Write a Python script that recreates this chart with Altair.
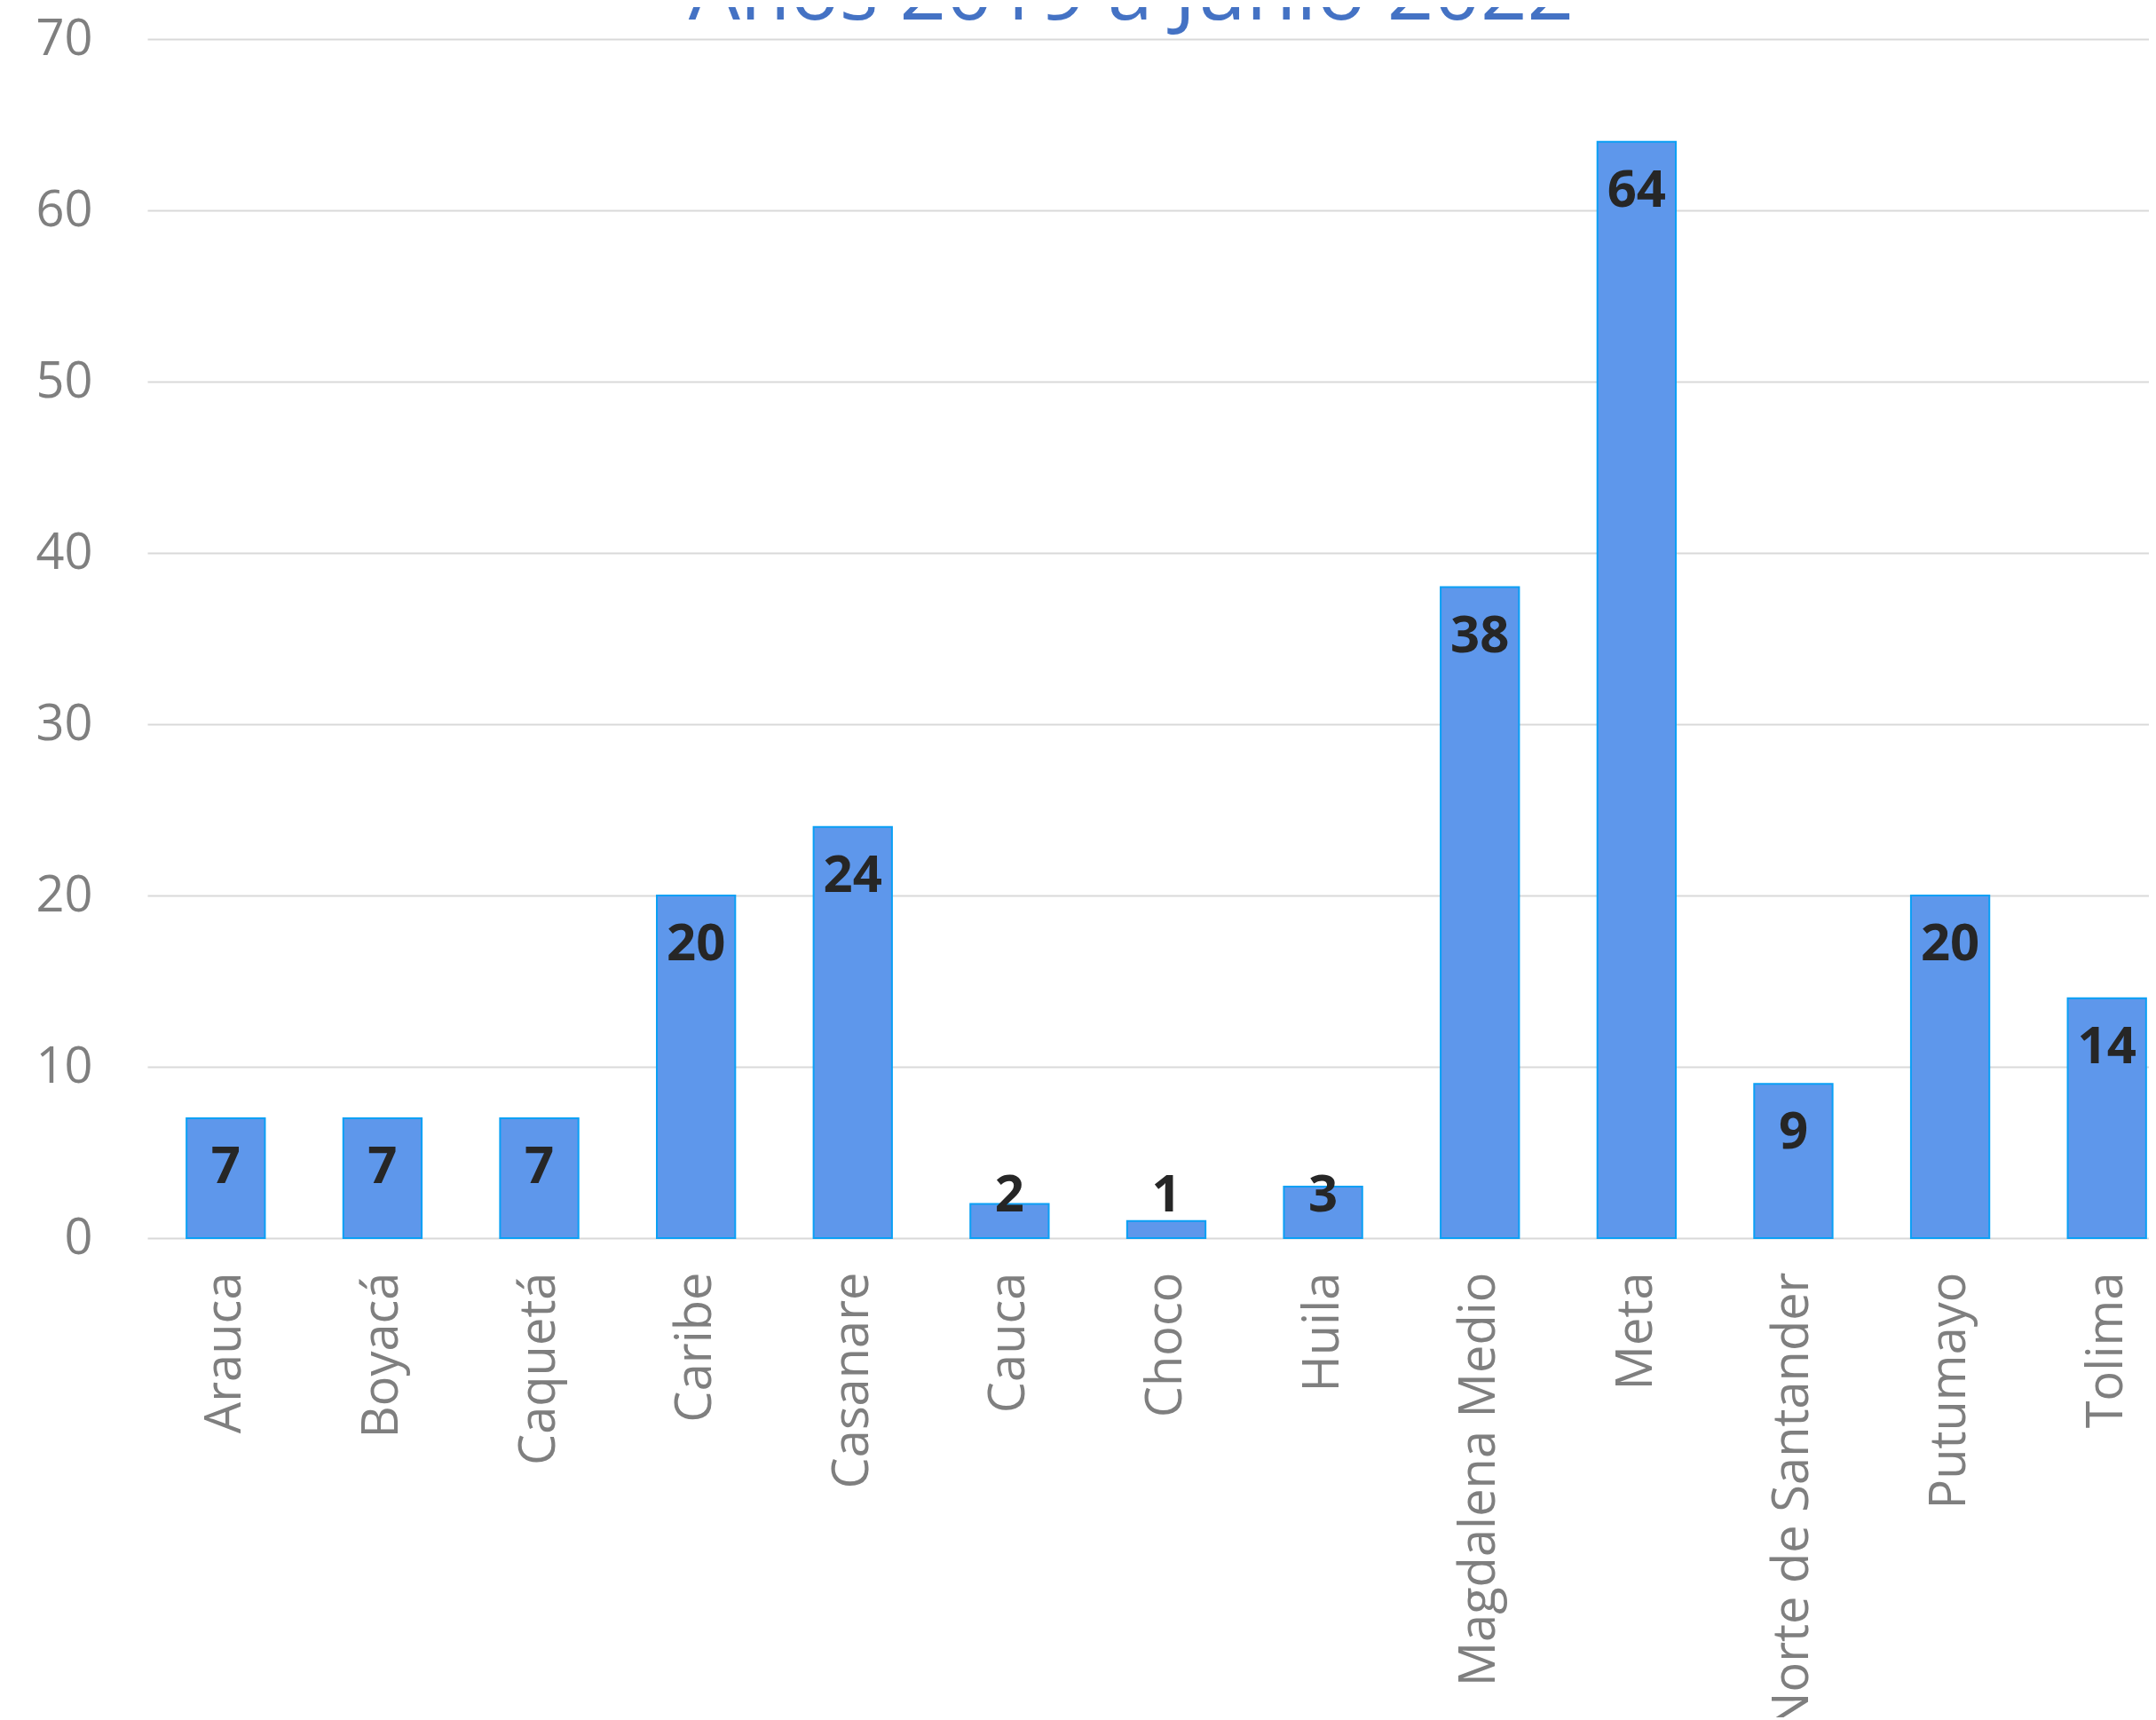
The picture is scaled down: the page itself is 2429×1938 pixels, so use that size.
import altair as alt
import pandas as pd

categorias = ["Arauca", "Boyacá", "Caquetá", "Caribe", "Casanare", "Cauca", "Choco",
              "Huila", "Magdalena Medio", "Meta", "Norte de Santander", "Putumayo", "Tolima"]
valores = [7, 7, 7, 20, 24, 2, 1, 3, 38, 64, 9, 20, 14]
y_ticks = [0, 10, 20, 30, 40, 50, 60, 70]

df = pd.DataFrame({"cat": categorias, "val": valores})

FONT = "Open Sans"
STEP_RANGE = [0, 2296]

x = alt.X("cat:N", sort=categorias, title=None,
          scale=alt.Scale(range=STEP_RANGE, paddingInner=0.5, paddingOuter=0.25),
          axis=alt.Axis(labelAngle=-90, labelFontSize=56, labelColor="#7f7f7f",
                        labelFont=FONT, labelPadding=38, ticks=False, domain=False,
                        grid=False, labelLimit=2000))
y = alt.Y("val:Q", title=None,
          scale=alt.Scale(domain=[0, 70], nice=False),
          axis=alt.Axis(values=y_ticks, labelFontSize=56, labelColor="#7f7f7f",
                        labelFont=FONT, labelPadding=62, ticks=False, domain=False,
                        grid=True, gridColor="#d9d9d9", gridWidth=2))

bars = alt.Chart(df).mark_bar(color="#5e97eb", stroke="#0aa0f5", strokeWidth=2).encode(
    x=x, y=y
)

labels = alt.Chart(df).transform_calculate(
    pos="max(datum.val - 2.9, 2.43)"
).mark_text(font=FONT, fontWeight="bold", fontSize=58, color="#262626",
            baseline="middle", align="center").encode(
    x=alt.X("cat:N", sort=categorias, title=None,
            scale=alt.Scale(range=STEP_RANGE, paddingInner=0.5, paddingOuter=0.25)),
    y=alt.Y("pos:Q", title=None, scale=alt.Scale(domain=[0, 70], nice=False)),
    text=alt.Text("val:Q"),
)

chart = alt.layer(bars, labels).properties(
    width=2255,
    height=1351,
    background="white",
    title=alt.TitleParams(text="Años 2019 a Junio 2022", fontSize=92, color="#4472C4",
                          font=FONT, fontWeight="normal", frame="group", anchor="middle",
                          baseline="bottom", offset=0, dy=117, dx=-19),
    autosize=alt.AutoSizeParams(type="none"),
    padding={"left": 158, "top": 36, "right": 0, "bottom": 540},
).configure_view(stroke="transparent", strokeWidth=0).configure_axis(
    domain=False, ticks=False
)

chart.save("out.html", embed_options={"renderer": "svg", "actions": False})
